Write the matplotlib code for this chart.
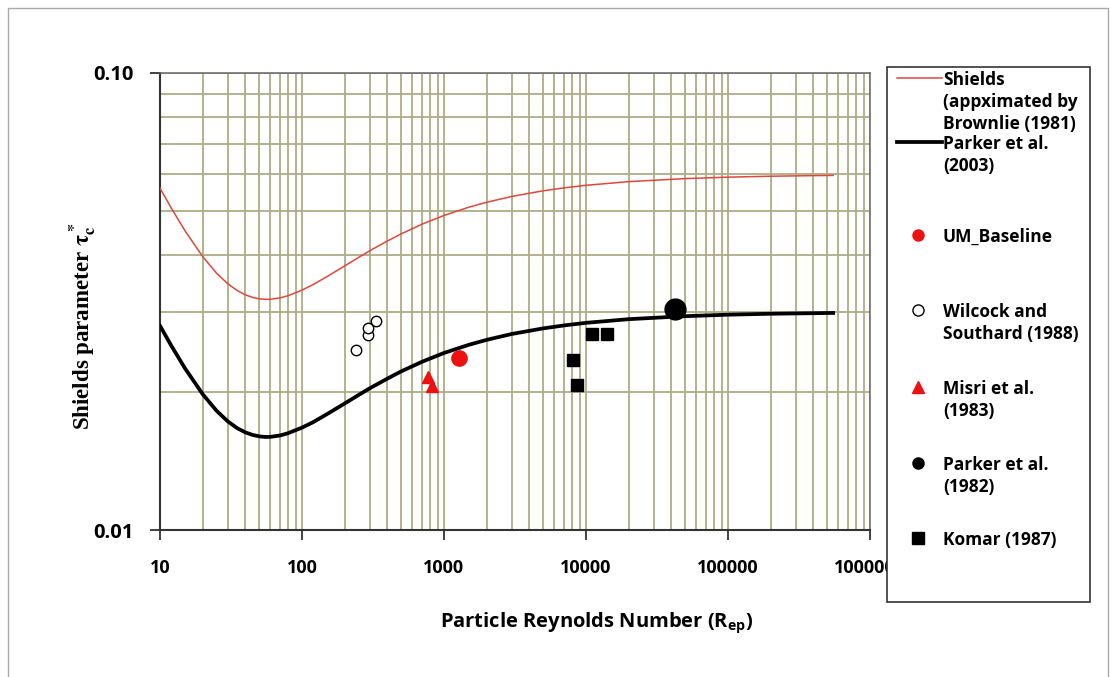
import numpy as np
import matplotlib
matplotlib.use("Agg")
import matplotlib.pyplot as plt
from matplotlib.patches import Rectangle
from matplotlib.lines import Line2D
from matplotlib.ticker import FixedLocator, NullFormatter, FixedFormatter

plt.rcParams['font.family'] = ['Open Sans', 'DejaVu Sans']
plt.rcParams['mathtext.fontset'] = 'custom'
plt.rcParams['mathtext.rm'] = 'Open Sans'
plt.rcParams['mathtext.bf'] = 'Open Sans:bold'

# curves
rep_curve = [10, 12, 15, 20, 25, 30, 35, 40, 45, 50, 55, 60, 70, 80, 100, 120,
             150, 200, 250, 300, 400, 500, 700, 1000, 1500, 2000, 3000, 5000,
             7000, 10000, 20000, 50000, 100000, 200000, 550000]
shields = [0.05596, 0.05064, 0.04516, 0.03964, 0.03648, 0.03458, 0.03341,
           0.03269, 0.03227, 0.03205, 0.03197, 0.03198, 0.03220, 0.03257,
           0.03349, 0.03445, 0.03585, 0.03784, 0.03947, 0.04083, 0.04291,
           0.04447, 0.04668, 0.04879, 0.05087, 0.05214, 0.05369, 0.05524,
           0.05606, 0.05679, 0.05785, 0.05874, 0.05917, 0.05945, 0.05970]
parker03 = [0.02798, 0.02532, 0.02258, 0.01982, 0.01824, 0.01729, 0.01670,
            0.01635, 0.01614, 0.01603, 0.01598, 0.01599, 0.01610, 0.01629,
            0.01675, 0.01722, 0.01793, 0.01892, 0.01974, 0.02042, 0.02145,
            0.02224, 0.02334, 0.02440, 0.02543, 0.02607, 0.02685, 0.02762,
            0.02803, 0.02840, 0.02893, 0.02937, 0.02959, 0.02973, 0.02985]

# measured points
um_x, um_y = [1270], [0.0238]
wil_x = [241, 290, 290, 334]
wil_y = [0.0248, 0.0267, 0.0277, 0.0286]
mis_x = [775, 825]
mis_y = [0.0216, 0.0207]
p82_x, p82_y = [42000], [0.0305]
kom_x = [11100, 14000, 8100, 8600]
kom_y = [0.0268, 0.0268, 0.0236, 0.0208]

xticks = [10, 100, 1000, 10000, 100000, 1000000]
xticklabels = ['10', '100', '1000', '10000', '100000', '1000000']

W, H = 1110, 677
fig = plt.figure(figsize=(W / 100, H / 100), dpi=100)
ax = fig.add_axes([160 / W, 1 - 530 / H, 710 / W, 457 / H])

grid_c = '#adad86'
ax.plot(rep_curve, shields, color='#e0473c', lw=1.1, zorder=3)
ax.plot(rep_curve, parker03, color='black', lw=2.7, zorder=3)
ax.plot(um_x, um_y, 'o', color='#ee1111', ms=11, zorder=4)
ax.plot(wil_x, wil_y, 'o', mfc='white', mec='black', mew=1.0, ms=7.5, zorder=4)
ax.plot(mis_x, mis_y, '^', color='#ee1111', ms=9, zorder=4)
ax.plot(p82_x, p82_y, 'o', color='black', ms=15, zorder=4)
ax.plot(kom_x, kom_y, 's', color='black', ms=9, zorder=4)

ax.set_xscale('log')
ax.set_yscale('log')
ax.set_xlim(10, 1000000)
ax.set_ylim(0.01, 0.1)

ax.xaxis.set_major_locator(FixedLocator(xticks))
ax.xaxis.set_major_formatter(FixedFormatter(xticklabels))
ax.xaxis.set_minor_locator(FixedLocator([m * 10 ** e for e in range(1, 6) for m in range(2, 10)]))
ax.xaxis.set_minor_formatter(NullFormatter())
ax.yaxis.set_major_locator(FixedLocator([0.01, 0.1]))
ax.yaxis.set_major_formatter(FixedFormatter(['0.01', '0.10']))
ax.yaxis.set_minor_locator(FixedLocator([m / 100 for m in range(2, 10)]))
ax.yaxis.set_minor_formatter(NullFormatter())

ax.grid(True, which='both', color=grid_c, lw=1.3, zorder=1)
ax.set_axisbelow(True)
for s in ['top', 'right']:
    ax.spines[s].set_color('#666666')
    ax.spines[s].set_linewidth(1.1)
for s in ['left', 'bottom']:
    ax.spines[s].set_color('#333333')
    ax.spines[s].set_linewidth(1.5)
ax.tick_params(which='major', direction='out', length=7, width=1.3, color='#333333',
               labelsize=13)
ax.tick_params(which='minor', length=0)
ax.tick_params(axis='x', pad=14)
ax.tick_params(axis='y', pad=12, labelsize=14.5)
for lab in ax.get_xticklabels() + ax.get_yticklabels():
    lab.set_fontweight('bold')

ax.set_xlabel(r'Particle Reynolds Number (R$_{\mathbf{ep}}$)', fontsize=14.5,
              fontweight='bold', va='center')
ax.xaxis.set_label_coords((597 - 160) / 710, -(623 - 530) / 457)
ax.set_ylabel(r'Shields parameter $\mathbf{\tau_c^*}$', fontsize=16.5, fontweight='bold',
              family='Liberation Serif', math_fontfamily='stix', va='center')
ax.yaxis.set_label_coords(-(160 - 83) / 710, (530 - 326) / 457)

# figure border
fig.add_artist(Rectangle((8 / W, -0.01), 1100 / W, (H - 8) / H + 0.01,
                         transform=fig.transFigure, fill=False, ec='#aaaaaa', lw=1))

# legend box drawn by hand
fig.add_artist(Rectangle((887 / W, 1 - 602 / H), 203 / W, 535 / H,
                         transform=fig.transFigure, fc='white', ec='#333333',
                         lw=1.2, zorder=10))

entries = [
    ('line', '#e0473c', 1.1, 78, 'Shields\n(appximated by\nBrownlie (1981)'),
    ('line', 'black', 2.7, 142, 'Parker et al.\n(2003)'),
    ('o', '#ee1111', 'full', 235, 'UM_Baseline'),
    ('o', 'black', 'open', 310, 'Wilcock and\nSouthard (1988)'),
    ('^', '#ee1111', 'full', 387, 'Misri et al.\n(1983)'),
    ('o', 'black', 'full', 463, 'Parker et al.\n(1982)'),
    ('s', 'black', 'full', 538, 'Komar (1987)'),
]
for kind, col, extra, py, label in entries:
    yf = 1 - py / H
    if kind == 'line':
        fig.add_artist(Line2D([897 / W, 942 / W], [yf, yf], color=col, lw=extra,
                              transform=fig.transFigure, zorder=11))
    else:
        mfc = 'white' if extra == 'open' else col
        fig.add_artist(Line2D([918 / W], [yf], marker=kind, ms=8, mfc=mfc, mec=col,
                              mew=1.0, ls='none', transform=fig.transFigure, zorder=11))
    fig.text(943 / W, yf + 7 / H, label, fontsize=12.5, fontweight='bold',
             va='top', ha='left', linespacing=1.3, zorder=12)

fig.savefig('out.png', dpi=100)
